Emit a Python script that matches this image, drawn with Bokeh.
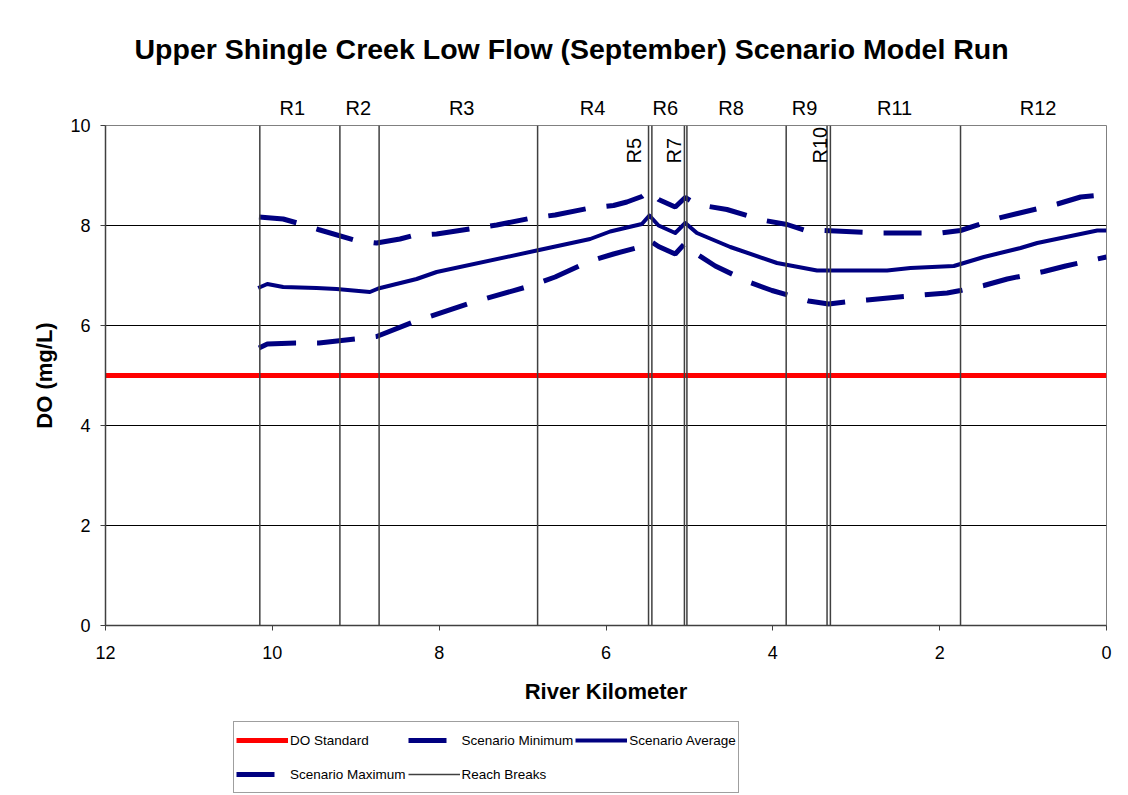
from bokeh.plotting import figure
from bokeh.layouts import column
from bokeh.models import (Range1d, FixedTicker, Legend, LegendItem, LabelSet, ColumnDataSource,
                          LinearAxis)
from bokeh.embed import file_html
from bokeh.resources import INLINE
from bokeh.core.properties import value
import math

# ---------------- data ----------------
std_km = [12.0, 0.0]
std_do = [5.0, 5.0]

avg_km = [10.17, 10.06, 9.87, 9.47, 9.23, 8.83, 8.73, 8.27, 8.03, 6.83, 6.19, 5.95, 5.57, 5.48,
          5.37, 5.17, 5.05, 4.91, 4.51, 3.95, 3.47, 2.63, 2.35, 1.83, 1.47, 1.03, 0.83, 0.11, 0.0]
avg_do = [6.75, 6.83, 6.77, 6.75, 6.73, 6.67, 6.74, 6.93, 7.07, 7.50, 7.73, 7.88, 8.03, 8.20,
          8.00, 7.85, 8.05, 7.85, 7.57, 7.25, 7.10, 7.10, 7.15, 7.19, 7.37, 7.55, 7.65, 7.90, 7.90]

max_km = [10.16, 9.87, 9.70, 9.45, 9.00, 8.75, 8.47, 8.31, 8.03, 7.63, 7.31, 6.89, 6.61, 6.19,
          5.91, 5.75, 5.57, 5.48, 5.37, 5.17, 5.05, 4.91, 4.55, 4.13, 3.83, 3.63, 3.41, 2.71,
          1.99, 1.75, 1.29, 0.59, 0.31, 0.0]
max_do = [8.17, 8.13, 8.05, 7.92, 7.70, 7.65, 7.73, 7.80, 7.83, 7.93, 8.01, 8.15, 8.21, 8.35,
          8.40, 8.47, 8.58, 8.70, 8.52, 8.37, 8.56, 8.42, 8.32, 8.11, 8.02, 7.91, 7.90, 7.85,
          7.85, 7.90, 8.15, 8.43, 8.57, 8.62]

min_km = [10.16, 10.06, 9.72, 9.44, 9.00, 8.75, 8.31, 7.63, 6.89, 6.61, 6.19, 5.91, 5.57, 5.48,
          5.37, 5.17, 5.05, 4.93, 4.69, 4.29, 4.01, 3.57, 3.33, 3.03, 2.87, 2.43, 1.91, 1.75,
          1.47, 1.19, 0.75, 0.49, 0.0]
min_do = [5.55, 5.63, 5.65, 5.65, 5.73, 5.78, 6.07, 6.45, 6.80, 6.97, 7.29, 7.43, 7.58, 7.70,
          7.58, 7.43, 7.65, 7.45, 7.19, 6.87, 6.70, 6.49, 6.43, 6.49, 6.51, 6.58, 6.65, 6.70,
          6.80, 6.93, 7.08, 7.19, 7.37]

reach_breaks = [10.15, 9.19, 8.72, 6.82, 5.49, 5.45, 5.06, 5.03, 3.84, 3.35, 3.31, 1.75]
reach_names = ["R1", "R2", "R3", "R4", "R6", "R8", "R9", "R11", "R12"]
reach_name_km = [9.76, 8.97, 7.73, 6.16, 5.29, 4.50, 3.62, 2.54, 0.82]
short_names = ["R5", "R7", "R10"]
short_name_km = [5.66, 5.18, 3.44]

x_ticks = [0, 2, 4, 6, 8, 10, 12]
y_ticks = [0, 2, 4, 6, 8, 10]

series_names = ["DO Standard", "Scenario Minimum", "Scenario Average", "Scenario Maximum",
                "Reach Breaks"]

# ---------------- styles ----------------
FONT = "Liberation Sans"
NAVY = "#000080"
styles = {
    "DO Standard": dict(line_color="#FF0000", line_width=5),
    "Scenario Minimum": dict(line_color=NAVY, line_width=5, line_dash="38 21"),
    "Scenario Average": dict(line_color=NAVY, line_width=4, line_join="round"),
    "Scenario Maximum": dict(line_color=NAVY, line_width=5, line_dash="38 21"),
    "Reach Breaks": dict(line_color="#404040", line_width=1.5),
}


def draw_series(fig):
    rs = {}
    rs["DO Standard"] = fig.line(std_km, std_do, **styles["DO Standard"])
    rs["Scenario Minimum"] = fig.line(min_km, min_do, **styles["Scenario Minimum"])
    rs["Scenario Average"] = fig.line(avg_km, avg_do, **styles["Scenario Average"])
    rs["Scenario Maximum"] = fig.line(max_km, max_do, **styles["Scenario Maximum"])
    rs["Reach Breaks"] = fig.multi_line([[k, k] for k in reach_breaks],
                                        [[0, 10] for _ in reach_breaks], **styles["Reach Breaks"])
    return rs


# ---------------- main figure ----------------
p = figure(output_backend="svg", toolbar_location=None,
           frame_width=1001, frame_height=500,
           x_range=Range1d(12, 0), y_range=Range1d(0, 10),
           min_border_left=105, min_border_right=20, min_border_top=125, min_border_bottom=90,
           title="Upper Shingle Creek Low Flow (September) Scenario Model Run")
p.title.align = "left"
p.title.offset = 29
p.title.text_font = FONT
p.title.text_font_size = "28.5px"
p.title.text_font_style = "bold"
p.title.text_color = "black"
p.title.standoff = 58

p.background_fill_color = "white"
p.border_fill_color = "white"
p.outline_line_color = "#808080"
p.outline_line_width = 1

p.xgrid.visible = False
p.ygrid.ticker = FixedTicker(ticks=[2, 4, 6, 8])
p.ygrid.grid_line_color = "black"
p.ygrid.grid_line_width = 1

for ax in (p.xaxis[0], p.yaxis[0]):
    ax.axis_line_color = "#404040"
    ax.axis_line_width = 1.5
    ax.major_tick_line_color = "#404040"
    ax.major_tick_in = 0
    ax.major_tick_out = 5
    ax.minor_tick_line_color = None
    ax.major_label_text_font = FONT
    ax.major_label_text_font_size = "18px"
    ax.major_label_text_color = "black"
    ax.axis_label_text_font = FONT
    ax.axis_label_text_font_size = "22px"
    ax.axis_label_text_font_style = "bold"
    ax.axis_label_text_color = "black"

p.xaxis.ticker = FixedTicker(ticks=x_ticks)
p.yaxis.ticker = FixedTicker(ticks=y_ticks)
p.xaxis.axis_label = "River Kilometer"
p.yaxis.axis_label = "DO (mg/L)"
p.xaxis.major_label_standoff = 15
p.yaxis.major_label_standoff = 10
p.xaxis.axis_label_standoff = 17
p.yaxis.axis_label_standoff = 10

# reach names above the plot area, as an axis of labels
reach_axis = LinearAxis(ticker=FixedTicker(ticks=reach_name_km),
                        major_label_overrides={k: n for k, n in zip(reach_name_km, reach_names)})
reach_axis.axis_line_color = None
reach_axis.major_tick_line_color = None
reach_axis.minor_tick_line_color = None
reach_axis.major_tick_in = 0
reach_axis.major_tick_out = 0
reach_axis.major_label_standoff = 7
reach_axis.major_label_text_font = FONT
reach_axis.major_label_text_font_size = "20px"
reach_axis.major_label_text_color = "black"
p.add_layout(reach_axis, "above")

draw_series(p)

short_src = ColumnDataSource(dict(x=short_name_km, y=[9.24] * len(short_name_km), t=short_names))
p.add_layout(LabelSet(x="x", y="y", text="t", source=short_src, text_align="left",
                      text_baseline="middle", angle=math.pi / 2, text_font=value(FONT),
                      text_font_size="20px", text_color="black"))

# ---------------- legend strip (series drawn out of its view, only the key shows) ----------------
q = figure(output_backend="svg", toolbar_location=None,
           frame_width=1126, frame_height=80,
           min_border_left=0, min_border_right=0, min_border_top=0, min_border_bottom=0,
           x_axis_type=None, y_axis_type=None, x_range=Range1d(12, 0), y_range=Range1d(100, 101))
q.grid.visible = False
q.outline_line_color = None
q.background_fill_color = "white"
q.border_fill_color = "white"

q_rs = draw_series(q)
items = [LegendItem(label=name, renderers=[q_rs[name]]) for name in series_names]

legend = Legend(items=items, orientation="horizontal", ncols=3, location=(233, 2))
legend.label_text_font = FONT
legend.label_text_font_size = "13.5px"
legend.label_text_color = "black"
legend.glyph_width = 52
legend.glyph_height = 32
legend.label_height = 32
legend.label_standoff = 2
legend.spacing = 2
legend.padding = 2
legend.margin = 0
legend.border_line_color = "#404040"
legend.border_line_width = 1
legend.background_fill_alpha = 1
q.add_layout(legend, "center")

layout = column(p, q, spacing=0)
open("out.html", "w").write(file_html(layout, INLINE))
